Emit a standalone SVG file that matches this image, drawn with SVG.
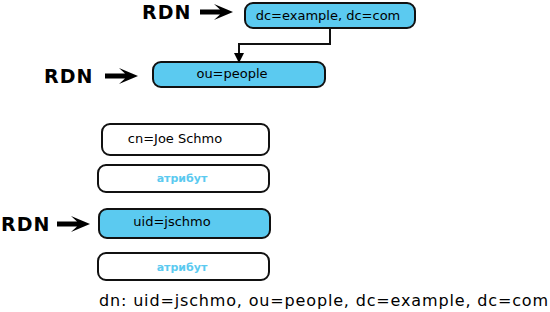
<svg xmlns="http://www.w3.org/2000/svg" width="550" height="312" viewBox="0 0 550 312">
<style>
.box{stroke:#111;stroke-width:2}
.blue{fill:#5bcaf0}
.white{fill:#fff}
.t{font-family:"DejaVu Sans",Verdana,sans-serif;font-size:13px;fill:#000;text-anchor:middle}
.attr{font-family:"DejaVu Sans",Verdana,sans-serif;font-size:11px;font-weight:bold;fill:#5bcaf0;text-anchor:middle}
.rdn{font-family:"DejaVu Sans",Verdana,sans-serif;font-size:19px;font-weight:bold;fill:#000;letter-spacing:1px}
.big{fill:#000}
</style>
<defs>
<marker id="ah" markerWidth="10" markerHeight="10" refX="8" refY="5" orient="auto" markerUnits="userSpaceOnUse">
<path d="M0,0 L10,5 L0,10 z" fill="#000"/>
</marker>
<path id="bigarrow" d="M0,-2.5 L20,-2.5 L14,-8 L33,0 L14,8 L20,2.5 L0,2.5 z"/>
</defs>
<g id="rdn1"><text class="rdn" x="142" y="19">RDN</text><use href="#bigarrow" class="big" x="200" y="12"/></g>
<g id="rdn2"><text class="rdn" x="44" y="83">RDN</text><use href="#bigarrow" class="big" x="105" y="76"/></g>
<g id="rdn3"><text class="rdn" x="1" y="231">RDN</text><use href="#bigarrow" class="big" x="57" y="224"/></g>
<g id="n1"><rect class="box blue" x="245" y="3" width="170" height="25" rx="8"/><text class="t" x="328" y="20">dc=example, dc=com</text></g>
<g id="n2"><rect class="box blue" x="153" y="62" width="172" height="25" rx="8"/><text class="t" x="232" y="78">ou=people</text></g>
<g id="n3"><rect class="box white" x="102" y="124" width="167" height="31" rx="8"/><text class="t" x="175" y="143">cn=Joe Schmo</text></g>
<g id="n4"><rect class="box white" x="98" y="165" width="171" height="27" rx="8"/><text class="attr" x="182" y="182">атрибут</text></g>
<g id="n5"><rect class="box blue" x="99" y="209" width="171" height="29" rx="8"/><text class="t" x="172" y="226">uid=jschmo</text></g>
<g id="n6"><rect class="box white" x="98" y="253" width="171" height="27" rx="8"/><text class="attr" x="182" y="271">атрибут</text></g>
<g id="connectors"><path d="M330,28 L330,44 L239,44 L239,61" fill="none" stroke="#111" stroke-width="2" marker-end="url(#ah)"/></g>
<text x="99" y="306" font-family="DejaVu Sans,Verdana,sans-serif" font-size="16" fill="#000" textLength="449">dn: uid=jschmo, ou=people, dc=example, dc=com</text>
</svg>
